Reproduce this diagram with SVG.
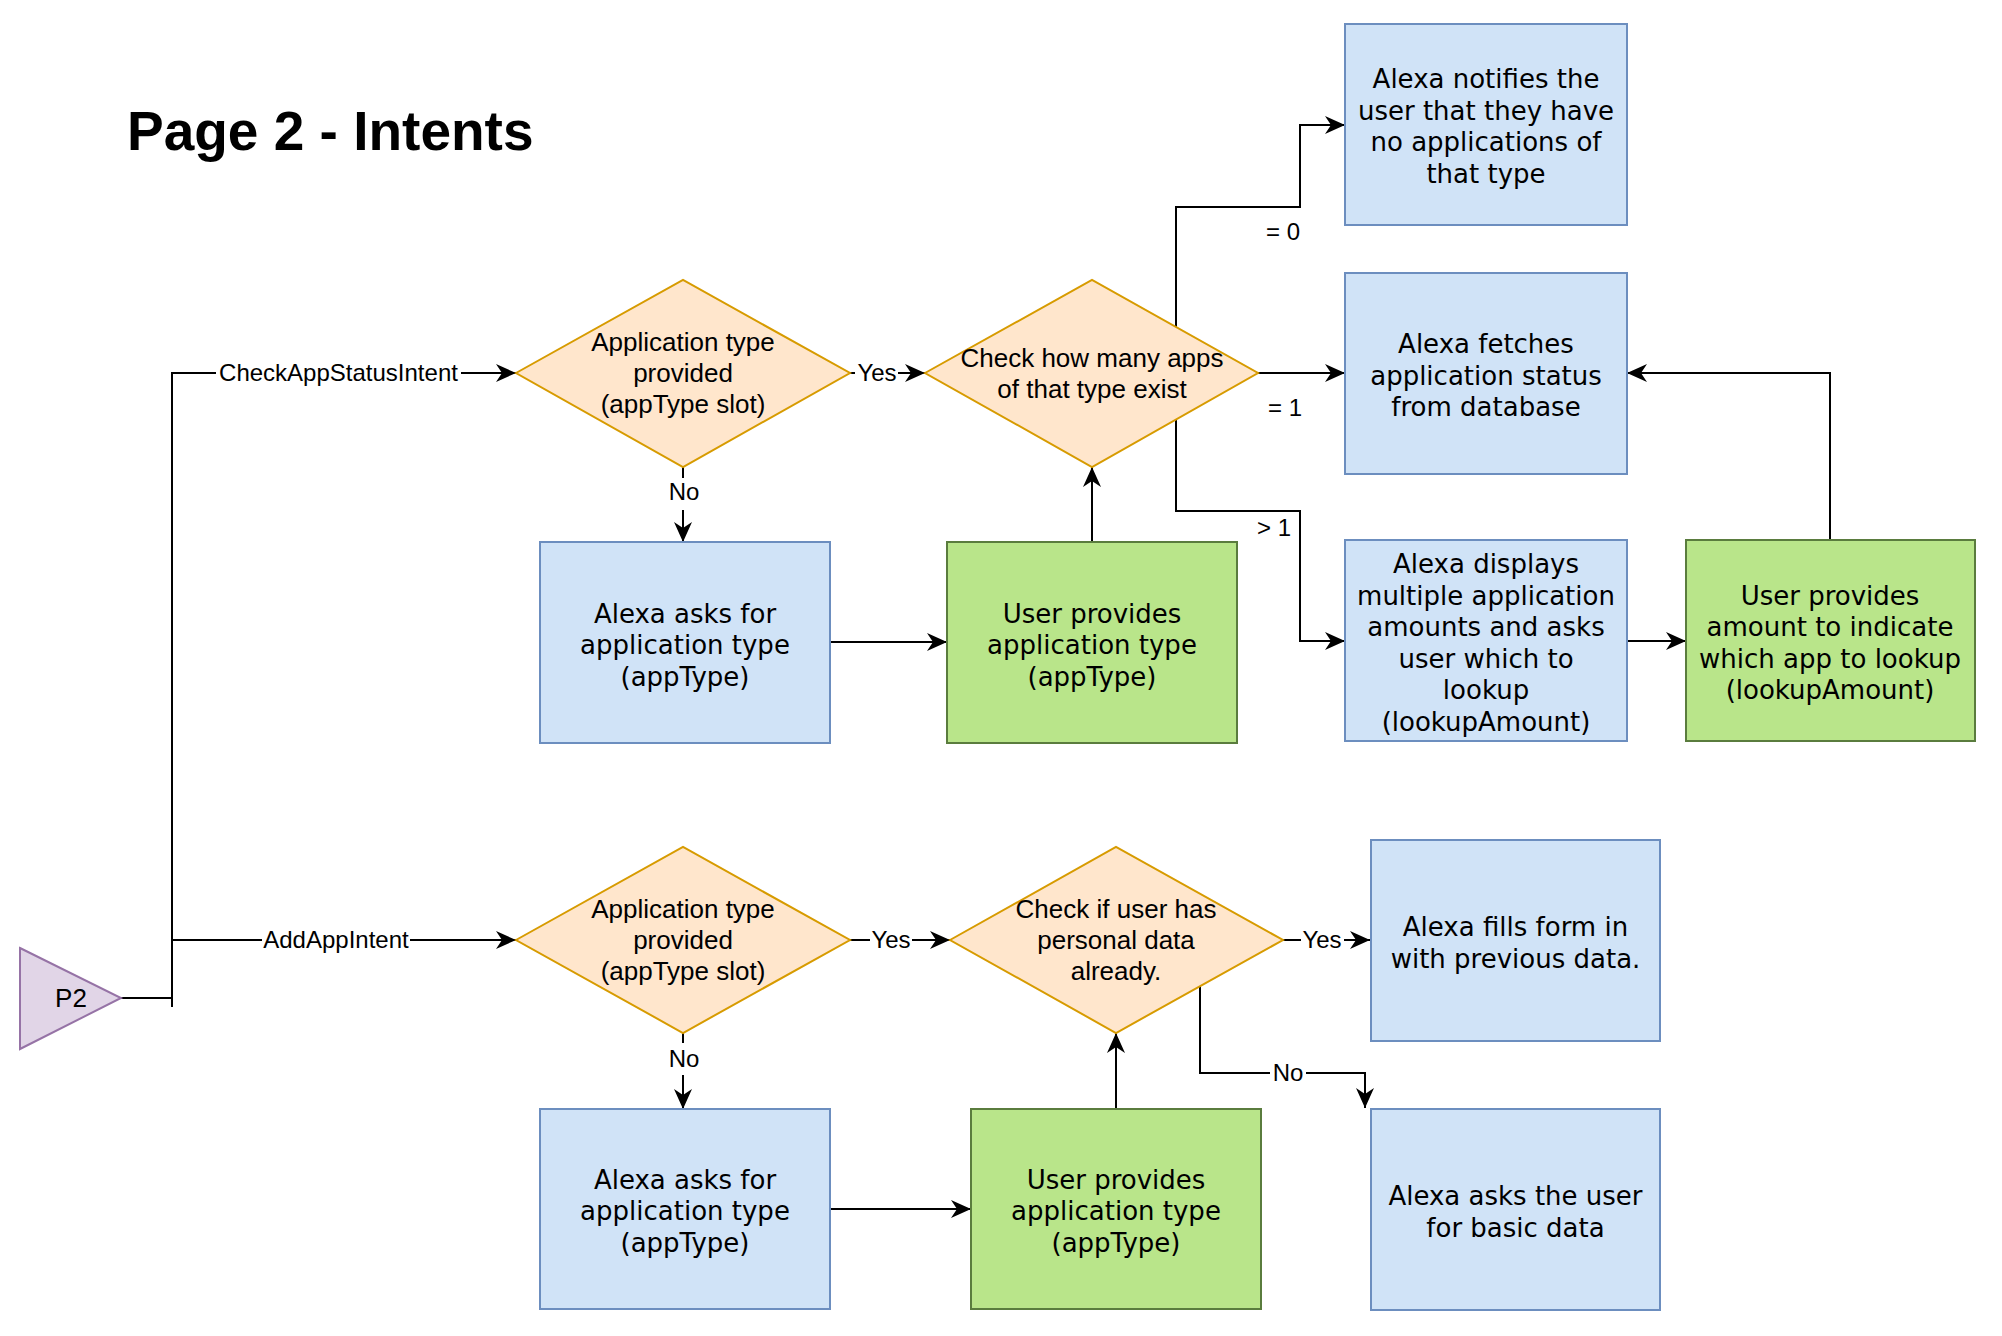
<svg xmlns="http://www.w3.org/2000/svg" width="2002" height="1336" viewBox="0 0 2002 1336">
<defs>
<style>
.box{fill:#d0e3f7;stroke:#6c8ebf;stroke-width:2}
.grn{fill:#b9e58a;stroke:#5a7c3e;stroke-width:2}
.dia{fill:#ffe6cc;stroke:#d79b00;stroke-width:2}
.tri{fill:#e1d5e7;stroke:#9673a6;stroke-width:2}
.bt{font-family:"DejaVu Sans",Verdana,sans-serif;font-size:26px;fill:#000;text-anchor:middle}
.dt{font-family:"Liberation Sans",Arial,Helvetica,sans-serif;font-size:26px;fill:#000;text-anchor:middle}
.lt{font-family:"Liberation Sans",Arial,Helvetica,sans-serif;font-size:24px;fill:#000;text-anchor:middle}
.ln{fill:none;stroke:#000;stroke-width:2}
.bg{fill:#fff}
</style>
<marker id="arr" markerUnits="userSpaceOnUse" markerWidth="22" markerHeight="18" refX="20" refY="9" orient="auto">
<path d="M0,0 L20,9 L0,18 L6,9 Z" fill="#000"/>
</marker>
</defs>
<rect width="2002" height="1336" fill="#fff"/>
<text x="127" y="150" font-family="'Liberation Sans',Arial,Helvetica,sans-serif" font-size="55" font-weight="bold" fill="#000">Page 2 - Intents</text>

<g id="connectors">
<path class="ln" d="M121,998 H172 V373 H516" marker-end="url(#arr)"/>
<path class="ln" d="M172,998 V940 H516" marker-end="url(#arr)"/>
<path class="ln" d="M172,998 V1007"/>
<path class="ln" d="M850,373 H925" marker-end="url(#arr)"/>
<path class="ln" d="M683,467 V542" marker-end="url(#arr)"/>
<path class="ln" d="M829.5,642 H947" marker-end="url(#arr)"/>
<path class="ln" d="M1092,542 V467" marker-end="url(#arr)"/>
<path class="ln" d="M1176,327 V207 H1300 V125 H1345" marker-end="url(#arr)"/>
<path class="ln" d="M1258,373 H1345" marker-end="url(#arr)"/>
<path class="ln" d="M1176,420 V511 H1300 V641 H1345" marker-end="url(#arr)"/>
<path class="ln" d="M1627,641 H1686" marker-end="url(#arr)"/>
<path class="ln" d="M1830,540 V373 H1627" marker-end="url(#arr)"/>
<path class="ln" d="M850,940 H950" marker-end="url(#arr)"/>
<path class="ln" d="M683,1033 V1109" marker-end="url(#arr)"/>
<path class="ln" d="M829.5,1209 H971" marker-end="url(#arr)"/>
<path class="ln" d="M1116,1109 V1033" marker-end="url(#arr)"/>
<path class="ln" d="M1283,940 H1370" marker-end="url(#arr)"/>
<path class="ln" d="M1200,986 V1073 H1365 V1108" marker-end="url(#arr)"/>

<rect class="bg" x="216" y="361" width="245" height="24"/>
<text class="lt" x="338.5" y="381">CheckAppStatusIntent</text>
<rect class="bg" x="262" y="928" width="148" height="24"/>
<text class="lt" x="336" y="948">AddAppIntent</text>
<rect class="bg" x="855" y="361" width="43" height="24"/>
<text class="lt" x="877" y="381">Yes</text>
<rect class="bg" x="668" y="478" width="32" height="32"/>
<text class="lt" x="684" y="500">No</text>
<rect class="bg" x="870" y="928" width="42" height="24"/>
<text class="lt" x="891" y="948">Yes</text>
<rect class="bg" x="1301" y="928" width="43" height="24"/>
<text class="lt" x="1322" y="948">Yes</text>
<rect class="bg" x="668" y="1043" width="32" height="32"/>
<text class="lt" x="684" y="1067">No</text>
<rect class="bg" x="1270" y="1061" width="36" height="24"/>
<text class="lt" x="1288" y="1081">No</text>
<text class="lt" x="1283" y="240">= 0</text>
<text class="lt" x="1285" y="416">= 1</text>
<text class="lt" x="1274" y="536">&gt; 1</text>
</g>

<g id="p2">
<polygon class="tri" points="20,948 121,998 20,1049"/>
<text class="dt" x="71" y="1007">P2</text>
</g>

<g id="checkAppType1">
<polygon class="dia" points="516,373 683,280 850,373 683,467"/>
<text class="dt" x="683" y="351">Application type</text>
<text class="dt" x="683" y="382">provided</text>
<text class="dt" x="683" y="413">(appType slot)</text>
</g>

<g id="checkHowMany">
<polygon class="dia" points="925,373 1092,280 1258,373 1092,467"/>
<text class="dt" x="1092" y="367">Check how many apps</text>
<text class="dt" x="1092" y="398">of that type exist</text>
</g>

<g id="notify">
<rect class="box" x="1345" y="24" width="282" height="201"/>
<text class="bt" x="1486" y="88">Alexa notifies the</text>
<text class="bt" x="1486" y="119.5">user that they have</text>
<text class="bt" x="1486" y="151">no applications of</text>
<text class="bt" x="1486" y="182.5">that type</text>
</g>

<g id="fetch">
<rect class="box" x="1345" y="273" width="282" height="201"/>
<text class="bt" x="1486" y="353">Alexa fetches</text>
<text class="bt" x="1486" y="384.5">application status</text>
<text class="bt" x="1486" y="416">from database</text>
</g>

<g id="display">
<rect class="box" x="1345" y="540" width="282" height="201"/>
<text class="bt" x="1486" y="573">Alexa displays</text>
<text class="bt" x="1486" y="604.5">multiple application</text>
<text class="bt" x="1486" y="636">amounts and asks</text>
<text class="bt" x="1486" y="667.5">user which to</text>
<text class="bt" x="1486" y="699">lookup</text>
<text class="bt" x="1486" y="730.5">(lookupAmount)</text>
</g>

<g id="userAmount">
<rect class="grn" x="1686" y="540" width="289" height="201"/>
<text class="bt" x="1830" y="604.5">User provides</text>
<text class="bt" x="1830" y="636">amount to indicate</text>
<text class="bt" x="1830" y="667.5">which app to lookup</text>
<text class="bt" x="1830" y="699">(lookupAmount)</text>
</g>

<g id="askType1">
<rect class="box" x="540" y="542" width="290" height="201"/>
<text class="bt" x="685" y="622.5">Alexa asks for</text>
<text class="bt" x="685" y="654">application type</text>
<text class="bt" x="685" y="685.5">(appType)</text>
</g>

<g id="userType1">
<rect class="grn" x="947" y="542" width="290" height="201"/>
<text class="bt" x="1092" y="622.5">User provides</text>
<text class="bt" x="1092" y="654">application type</text>
<text class="bt" x="1092" y="685.5">(appType)</text>
</g>

<g id="checkAppType2">
<polygon class="dia" points="516,940 683,847 850,940 683,1033"/>
<text class="dt" x="683" y="918">Application type</text>
<text class="dt" x="683" y="949">provided</text>
<text class="dt" x="683" y="980">(appType slot)</text>
</g>

<g id="checkPersonal">
<polygon class="dia" points="950,940 1116,847 1283,940 1116,1033"/>
<text class="dt" x="1116" y="918">Check if user has</text>
<text class="dt" x="1116" y="949">personal data</text>
<text class="dt" x="1116" y="980">already.</text>
</g>

<g id="fillForm">
<rect class="box" x="1371" y="840" width="289" height="201"/>
<text class="bt" x="1515.5" y="936">Alexa fills form in</text>
<text class="bt" x="1515.5" y="967.5">with previous data.</text>
</g>

<g id="askType2">
<rect class="box" x="540" y="1109" width="290" height="200"/>
<text class="bt" x="685" y="1188.5">Alexa asks for</text>
<text class="bt" x="685" y="1220">application type</text>
<text class="bt" x="685" y="1251.5">(appType)</text>
</g>

<g id="userType2">
<rect class="grn" x="971" y="1109" width="290" height="200"/>
<text class="bt" x="1116" y="1188.5">User provides</text>
<text class="bt" x="1116" y="1220">application type</text>
<text class="bt" x="1116" y="1251.5">(appType)</text>
</g>

<g id="askBasic">
<rect class="box" x="1371" y="1109" width="289" height="201"/>
<text class="bt" x="1515.5" y="1205">Alexa asks the user</text>
<text class="bt" x="1515.5" y="1236.5">for basic data</text>
</g>
</svg>
